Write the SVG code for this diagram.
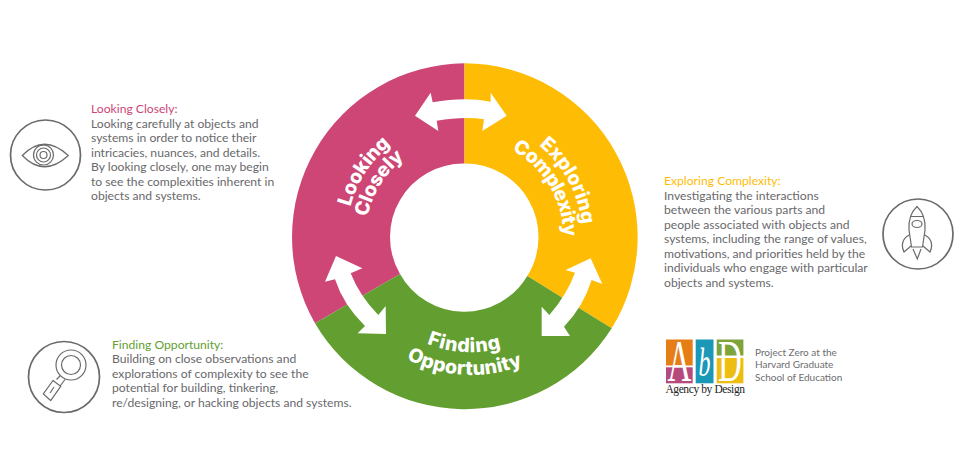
<svg xmlns="http://www.w3.org/2000/svg" width="964" height="456" viewBox="0 0 964 456">
<style>
.b{font:12.15px Lato,"Open Sans",sans-serif;fill:#69696b}
.h{font:12.15px Lato,"Open Sans",sans-serif}
.w{font:800 19.5px Inter,"Open Sans",sans-serif;fill:#fff;text-anchor:middle}
.i{fill:none;stroke:#6a6a6a;stroke-width:1.2}
.o{fill:none;stroke:#6a6a6a;stroke-width:1.7}
.p{font:10px Lato,"Open Sans",sans-serif;fill:#6d6d6f}
</style>
<defs>
<path id="cw118" d="M346.500 237A118 118 0 1 1 582.500 237A118 118 0 1 1 346.500 237"/>
<path id="cw99" d="M365.500 237A99 99 0 1 1 563.500 237A99 99 0 1 1 365.500 237"/>
<path id="ccw115" d="M349.500 237A115 115 0 0 0 579.500 237"/>
<path id="ccw138" d="M326.500 237A138 138 0 0 0 602.500 237"/>
</defs>
<rect width="964" height="456" fill="#fff"/>
<g id="ring">
<path fill="#cd4675" d="M464.500 63.300A173.700 173.700 0 0 0 315 323.300L400 274A73.500 73.500 0 0 1 464.500 163.500Z"/>
<path fill="#ffbc05" d="M464.500 63.300A173.700 173.700 0 0 1 611.700 328.300L527.300 276A73.500 73.500 0 0 0 464.500 163.500Z"/>
<path fill="#629e30" d="M315 323.300A173.700 173.700 0 0 0 611.700 328.300L527.300 276A73.500 73.500 0 0 1 400 274Z"/>
</g>
<g id="connectors" fill="#fff" transform="translate(280 50) scale(.33333)">
<path d="M405 197L452 128L458 157Q553 140 632 155L632 128L680 197L607 243L612 208Q553 198 470 212L475 243Z"/>
<path d="M168 618L247 655L212 670Q240 740 295 795L317 768L318 852L233 850L255 828Q190 765 165 688L135 695Z"/>
<path d="M932 625L967 702L935 690Q910 770 852 830L870 858L785 858L785 770L808 795Q860 735 885 668L857 660Z"/>
</g>
<g id="segment-labels">
<text class="w" style="letter-spacing:-.3px" transform="rotate(-57 464.500 237)"><textPath href="#cw118" startOffset="25%">Looking</textPath></text>
<text class="w" style="letter-spacing:-.3px" transform="rotate(-58 464.500 237)"><textPath href="#cw99" startOffset="25%">Closely</textPath></text>
<text class="w" transform="rotate(61.500 464.500 237)"><textPath href="#cw118" startOffset="25%">Exploring</textPath></text>
<text class="w" style="letter-spacing:-.6px" transform="rotate(59 464.500 237)"><textPath href="#cw99" startOffset="25%">Complexity</textPath></text>
<text class="w" style="letter-spacing:.6px" transform="rotate(3 465 342)"><textPath href="#ccw115" startOffset="50%">Finding</textPath></text>
<text class="w" style="letter-spacing:.2px" transform="rotate(3 467 364)"><textPath href="#ccw138" startOffset="50%">Opportunity</textPath></text>
</g>
<g id="looking-closely">
<circle class="o" cx="45.500" cy="155" r="35"/>
<path class="i" d="M22.300 155.500Q44 133 68.300 155.500Q44 178 22.300 155.500Z"/>
<circle class="i" cx="43.500" cy="155" r="10"/>
<circle class="i" cx="43.500" cy="155" r="7"/>
<circle class="i" stroke-width="1.800" cx="43.500" cy="155" r="3.500"/>
<text class="h" fill="#cd4675" x="91" y="113">Looking Closely:</text>
<text class="b" x="91" y="128">Looking carefully at objects and</text>
<text class="b" x="91" y="142">systems in order to notice their</text>
<text class="b" x="91" y="157">intricacies, nuances, and details.</text>
<text class="b" x="91" y="171">By looking closely, one may begin</text>
<text class="b" x="91" y="186">to see the complexities inherent in</text>
<text class="b" x="91" y="200">objects and systems.</text>
</g>
<g id="finding-opportunity">
<circle class="o" cx="64" cy="377" r="35.500"/>
<circle class="i" cx="71" cy="365" r="15"/>
<circle class="i" cx="71" cy="365" r="9.500"/>
<path class="i" d="M60.500 375.500L56.500 379.500M65 379.500L60.500 385.500M53 380.500L60.700 386.300L50.700 400.500L43.300 394Z"/>
<path class="i" stroke-width="2.500" d="M54 387L50 393"/>
<text class="h" fill="#629e30" x="112" y="349">Finding Opportunity:</text>
<text class="b" x="112" y="363">Building on close observations and</text>
<text class="b" x="112" y="378">explorations of complexity to see the</text>
<text class="b" x="112" y="392">potential for building, tinkering,</text>
<text class="b" x="112" y="407">re/designing, or hacking objects and systems.</text>
</g>
<g id="exploring-complexity">
<circle class="o" cx="918" cy="234" r="35"/>
<path class="i" d="M917 206.500Q908 215 909 230L911.500 247H922.500L925 230Q926 215 917 206.500ZM910.500 216.500H923.500"/>
<ellipse class="i" cx="917" cy="224" rx="5" ry="3.500"/>
<path class="i" d="M909 235Q899 241 904 252L911 246M925 235Q935 241 930 252L923 246M913 249L917.300 259L921 249"/>
<text class="h" fill="#ffbc05" x="664" y="185">Exploring Complexity:</text>
<text class="b" x="664" y="200">Investigating the interactions</text>
<text class="b" x="664" y="214">between the various parts and</text>
<text class="b" x="664" y="229">people associated with objects and</text>
<text class="b" x="664" y="243">systems, including the range of values,</text>
<text class="b" x="664" y="258">motivations, and priorities held by the</text>
<text class="b" x="664" y="272">individuals who engage with particular</text>
<text class="b" x="664" y="287">objects and systems.</text>
</g>
<g id="logo">
<rect x="666" y="339.500" width="26.700" height="26" fill="#e67e17"/>
<rect x="666" y="367.300" width="26.700" height="16" fill="#b74a7c"/>
<rect x="695.700" y="339.500" width="17.800" height="43.800" fill="#1b97b8"/>
<rect x="716.700" y="339.500" width="26.700" height="16" fill="#7da33a"/>
<rect x="716.700" y="358" width="26.700" height="25.300" fill="#eebd12"/>
<text transform="translate(679.500 381) scale(1 1.800)" text-anchor="middle" fill="#fff" style="font:33px 'Liberation Serif',serif">A</text>
<text transform="translate(704.500 376) scale(1 1.700)" text-anchor="middle" fill="#fff" style="font:italic 24px 'Liberation Serif',serif">b</text>
<text transform="translate(730 381) scale(1 1.800)" text-anchor="middle" fill="#fff" style="font:33px 'Liberation Serif',serif">D</text>
<text x="705" y="392.500" text-anchor="middle" fill="#222" style="font:11.500px 'Liberation Serif',serif;letter-spacing:-.4px">Agency by Design</text>
<text class="p" x="755" y="356">Project Zero at the</text>
<text class="p" x="755" y="368">Harvard Graduate</text>
<text class="p" x="755" y="381">School of Education</text>
</g>
</svg>
